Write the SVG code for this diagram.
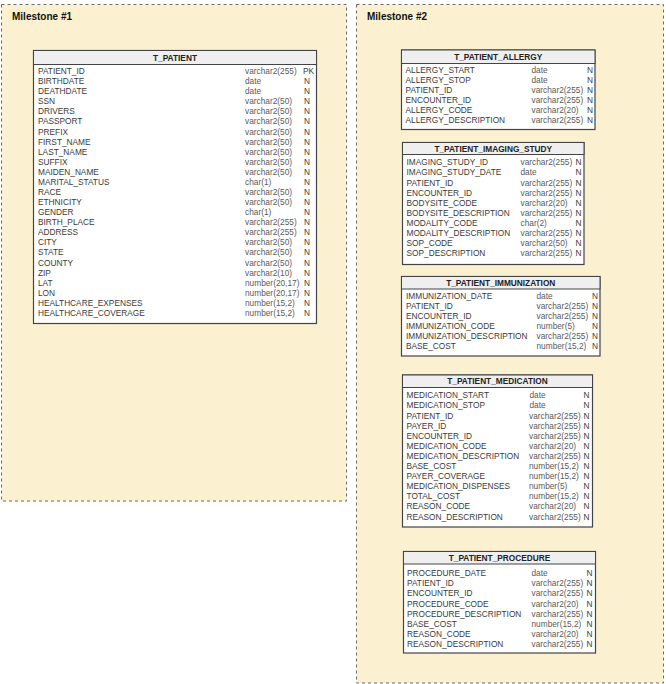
<svg xmlns="http://www.w3.org/2000/svg" width="666" height="684" viewBox="0 0 666 684">
<style>
.ms{fill:#fbf1d0;stroke:#6b6b6b;stroke-width:1;stroke-dasharray:3 3}
.mt{font-family:"Liberation Sans",Arial,sans-serif;font-size:10px;font-weight:bold;fill:#111}
.tb{fill:#fff;stroke:#444;stroke-width:1.2}
.hd{fill:#efefef;stroke:#444;stroke-width:1}
.ti{font-family:"Liberation Sans",Arial,sans-serif;font-size:8.3px;font-weight:bold;fill:#222;text-anchor:middle}
.f{font-family:"Liberation Sans",Arial,sans-serif;font-size:8.3px;fill:#3a3a3a}
.t{font-family:"Liberation Sans",Arial,sans-serif;font-size:8.3px;fill:#5a5a5a}
.n{font-family:"Liberation Sans",Arial,sans-serif;font-size:8.3px;fill:#3a3a3a;text-anchor:end}
.nl{font-family:"Liberation Sans",Arial,sans-serif;font-size:8.3px;fill:#3a3a3a}
</style>
<rect width="666" height="684" fill="#fff"/>

<g id="milestone1">
<rect class="ms" x="1.5" y="4.5" width="345" height="496.5"/>
<text class="mt" x="12" y="19.5">Milestone #1</text>
</g>
<g id="milestone2">
<rect class="ms" x="356.5" y="4.5" width="307" height="678.5"/>
<text class="mt" x="367" y="19.5">Milestone #2</text>
</g>

<g id="connectors"></g>

<g id="T_PATIENT">
<rect class="tb" x="33.5" y="50.5" width="283" height="273"/>
<rect class="hd" x="33.5" y="50.5" width="283" height="14"/>
<text class="ti" x="175" y="60.5">T_PATIENT</text>
<text class="f" x="38" y="74">PATIENT_ID</text><text class="t" x="245" y="74">varchar2(255)</text><text class="nl" x="303" y="74">PK</text>
<text class="f" x="38" y="84.1">BIRTHDATE</text><text class="t" x="245" y="84.1">date</text><text class="nl" x="304" y="84.1">N</text>
<text class="f" x="38" y="94.2">DEATHDATE</text><text class="t" x="245" y="94.2">date</text><text class="nl" x="304" y="94.2">N</text>
<text class="f" x="38" y="104.2">SSN</text><text class="t" x="245" y="104.2">varchar2(50)</text><text class="nl" x="304" y="104.2">N</text>
<text class="f" x="38" y="114.3">DRIVERS</text><text class="t" x="245" y="114.3">varchar2(50)</text><text class="nl" x="304" y="114.3">N</text>
<text class="f" x="38" y="124.4">PASSPORT</text><text class="t" x="245" y="124.4">varchar2(50)</text><text class="nl" x="304" y="124.4">N</text>
<text class="f" x="38" y="134.5">PREFIX</text><text class="t" x="245" y="134.5">varchar2(50)</text><text class="nl" x="304" y="134.5">N</text>
<text class="f" x="38" y="144.6">FIRST_NAME</text><text class="t" x="245" y="144.6">varchar2(50)</text><text class="nl" x="304" y="144.6">N</text>
<text class="f" x="38" y="154.6">LAST_NAME</text><text class="t" x="245" y="154.6">varchar2(50)</text><text class="nl" x="304" y="154.6">N</text>
<text class="f" x="38" y="164.7">SUFFIX</text><text class="t" x="245" y="164.7">varchar2(50)</text><text class="nl" x="304" y="164.7">N</text>
<text class="f" x="38" y="174.8">MAIDEN_NAME</text><text class="t" x="245" y="174.8">varchar2(50)</text><text class="nl" x="304" y="174.8">N</text>
<text class="f" x="38" y="184.9">MARITAL_STATUS</text><text class="t" x="245" y="184.9">char(1)</text><text class="nl" x="304" y="184.9">N</text>
<text class="f" x="38" y="195">RACE</text><text class="t" x="245" y="195">varchar2(50)</text><text class="nl" x="304" y="195">N</text>
<text class="f" x="38" y="205">ETHNICITY</text><text class="t" x="245" y="205">varchar2(50)</text><text class="nl" x="304" y="205">N</text>
<text class="f" x="38" y="215.1">GENDER</text><text class="t" x="245" y="215.1">char(1)</text><text class="nl" x="304" y="215.1">N</text>
<text class="f" x="38" y="225.2">BIRTH_PLACE</text><text class="t" x="245" y="225.2">varchar2(255)</text><text class="nl" x="304" y="225.2">N</text>
<text class="f" x="38" y="235.3">ADDRESS</text><text class="t" x="245" y="235.3">varchar2(255)</text><text class="nl" x="304" y="235.3">N</text>
<text class="f" x="38" y="245.4">CITY</text><text class="t" x="245" y="245.4">varchar2(50)</text><text class="nl" x="304" y="245.4">N</text>
<text class="f" x="38" y="255.4">STATE</text><text class="t" x="245" y="255.4">varchar2(50)</text><text class="nl" x="304" y="255.4">N</text>
<text class="f" x="38" y="265.5">COUNTY</text><text class="t" x="245" y="265.5">varchar2(50)</text><text class="nl" x="304" y="265.5">N</text>
<text class="f" x="38" y="275.6">ZIP</text><text class="t" x="245" y="275.6">varchar2(10)</text><text class="nl" x="304" y="275.6">N</text>
<text class="f" x="38" y="285.7">LAT</text><text class="t" x="245" y="285.7">number(20,17)</text><text class="nl" x="304" y="285.7">N</text>
<text class="f" x="38" y="295.8">LON</text><text class="t" x="245" y="295.8">number(20,17)</text><text class="nl" x="304" y="295.8">N</text>
<text class="f" x="38" y="305.8">HEALTHCARE_EXPENSES</text><text class="t" x="245" y="305.8">number(15,2)</text><text class="nl" x="304" y="305.8">N</text>
<text class="f" x="38" y="315.9">HEALTHCARE_COVERAGE</text><text class="t" x="245" y="315.9">number(15,2)</text><text class="nl" x="304" y="315.9">N</text>
</g>

<g id="T_PATIENT_ALLERGY">
<rect class="tb" x="401.5" y="50" width="193.5" height="79.5"/>
<rect class="hd" x="401.5" y="50" width="193.5" height="13.5"/>
<text class="ti" x="498.25" y="59.8">T_PATIENT_ALLERGY</text>
<text class="f" x="405.5" y="73.4">ALLERGY_START</text><text class="t" x="531.5" y="73.4">date</text><text class="n" x="593" y="73.4">N</text>
<text class="f" x="405.5" y="83.3">ALLERGY_STOP</text><text class="t" x="531.5" y="83.3">date</text><text class="n" x="593" y="83.3">N</text>
<text class="f" x="405.5" y="93.2">PATIENT_ID</text><text class="t" x="531.5" y="93.2">varchar2(255)</text><text class="n" x="593" y="93.2">N</text>
<text class="f" x="405.5" y="103.1">ENCOUNTER_ID</text><text class="t" x="531.5" y="103.1">varchar2(255)</text><text class="n" x="593" y="103.1">N</text>
<text class="f" x="405.5" y="113">ALLERGY_CODE</text><text class="t" x="531.5" y="113">varchar2(20)</text><text class="n" x="593" y="113">N</text>
<text class="f" x="405.5" y="122.9">ALLERGY_DESCRIPTION</text><text class="t" x="531.5" y="122.9">varchar2(255)</text><text class="n" x="593" y="122.9">N</text>
</g>

<g id="T_PATIENT_IMAGING_STUDY">
<rect class="tb" x="402.5" y="142.5" width="181.5" height="122"/>
<rect class="hd" x="402.5" y="142.5" width="181.5" height="12"/>
<text class="ti" x="493.25" y="151.5">T_PATIENT_IMAGING_STUDY</text>
<text class="f" x="406.5" y="165.3">IMAGING_STUDY_ID</text><text class="t" x="520.5" y="165.3">varchar2(255)</text><text class="n" x="581.5" y="165.3">N</text>
<text class="f" x="406.5" y="175.4">IMAGING_STUDY_DATE</text><text class="t" x="520.5" y="175.4">date</text><text class="n" x="581.5" y="175.4">N</text>
<text class="f" x="406.5" y="185.5">PATIENT_ID</text><text class="t" x="520.5" y="185.5">varchar2(255)</text><text class="n" x="581.5" y="185.5">N</text>
<text class="f" x="406.5" y="195.6">ENCOUNTER_ID</text><text class="t" x="520.5" y="195.6">varchar2(255)</text><text class="n" x="581.5" y="195.6">N</text>
<text class="f" x="406.5" y="205.7">BODYSITE_CODE</text><text class="t" x="520.5" y="205.7">varchar2(20)</text><text class="n" x="581.5" y="205.7">N</text>
<text class="f" x="406.5" y="215.8">BODYSITE_DESCRIPTION</text><text class="t" x="520.5" y="215.8">varchar2(255)</text><text class="n" x="581.5" y="215.8">N</text>
<text class="f" x="406.5" y="225.9">MODALITY_CODE</text><text class="t" x="520.5" y="225.9">char(2)</text><text class="n" x="581.5" y="225.9">N</text>
<text class="f" x="406.5" y="236">MODALITY_DESCRIPTION</text><text class="t" x="520.5" y="236">varchar2(255)</text><text class="n" x="581.5" y="236">N</text>
<text class="f" x="406.5" y="246.1">SOP_CODE</text><text class="t" x="520.5" y="246.1">varchar2(50)</text><text class="n" x="581.5" y="246.1">N</text>
<text class="f" x="406.5" y="256.2">SOP_DESCRIPTION</text><text class="t" x="520.5" y="256.2">varchar2(255)</text><text class="n" x="581.5" y="256.2">N</text>
</g>

<g id="T_PATIENT_IMMUNIZATION">
<rect class="tb" x="401.5" y="276.5" width="198.5" height="79.5"/>
<rect class="hd" x="401.5" y="276.5" width="198.5" height="12.5"/>
<text class="ti" x="500.75" y="285.8">T_PATIENT_IMMUNIZATION</text>
<text class="f" x="406" y="299">IMMUNIZATION_DATE</text><text class="t" x="536.5" y="299">date</text><text class="n" x="598" y="299">N</text>
<text class="f" x="406" y="308.9">PATIENT_ID</text><text class="t" x="536.5" y="308.9">varchar2(255)</text><text class="n" x="598" y="308.9">N</text>
<text class="f" x="406" y="318.8">ENCOUNTER_ID</text><text class="t" x="536.5" y="318.8">varchar2(255)</text><text class="n" x="598" y="318.8">N</text>
<text class="f" x="406" y="328.7">IMMUNIZATION_CODE</text><text class="t" x="536.5" y="328.7">number(5)</text><text class="n" x="598" y="328.7">N</text>
<text class="f" x="406" y="338.6">IMMUNIZATION_DESCRIPTION</text><text class="t" x="536.5" y="338.6">varchar2(255)</text><text class="n" x="598" y="338.6">N</text>
<text class="f" x="406" y="348.5">BASE_COST</text><text class="t" x="536.5" y="348.5">number(15,2)</text><text class="n" x="598" y="348.5">N</text>
</g>

<g id="T_PATIENT_MEDICATION">
<rect class="tb" x="402.5" y="375" width="190" height="152"/>
<rect class="hd" x="402.5" y="375" width="190" height="12.5"/>
<text class="ti" x="497.5" y="384.3">T_PATIENT_MEDICATION</text>
<text class="f" x="406.5" y="398.3">MEDICATION_START</text><text class="t" x="529.5" y="398.3">date</text><text class="n" x="589.5" y="398.3">N</text>
<text class="f" x="406.5" y="408.4">MEDICATION_STOP</text><text class="t" x="529.5" y="408.4">date</text><text class="n" x="589.5" y="408.4">N</text>
<text class="f" x="406.5" y="418.5">PATIENT_ID</text><text class="t" x="529" y="418.5">varchar2(255)</text><text class="n" x="589.5" y="418.5">N</text>
<text class="f" x="406.5" y="428.6">PAYER_ID</text><text class="t" x="529" y="428.6">varchar2(255)</text><text class="n" x="589.5" y="428.6">N</text>
<text class="f" x="406.5" y="438.7">ENCOUNTER_ID</text><text class="t" x="529" y="438.7">varchar2(255)</text><text class="n" x="589.5" y="438.7">N</text>
<text class="f" x="406.5" y="448.8">MEDICATION_CODE</text><text class="t" x="529" y="448.8">varchar2(20)</text><text class="n" x="589.5" y="448.8">N</text>
<text class="f" x="406.5" y="458.9">MEDICATION_DESCRIPTION</text><text class="t" x="529" y="458.9">varchar2(255)</text><text class="n" x="589.5" y="458.9">N</text>
<text class="f" x="406.5" y="469">BASE_COST</text><text class="t" x="529" y="469">number(15,2)</text><text class="n" x="589.5" y="469">N</text>
<text class="f" x="406.5" y="479.1">PAYER_COVERAGE</text><text class="t" x="529" y="479.1">number(15,2)</text><text class="n" x="589.5" y="479.1">N</text>
<text class="f" x="406.5" y="489.2">MEDICATION_DISPENSES</text><text class="t" x="529" y="489.2">number(5)</text><text class="n" x="589.5" y="489.2">N</text>
<text class="f" x="406.5" y="499.3">TOTAL_COST</text><text class="t" x="529" y="499.3">number(15,2)</text><text class="n" x="589.5" y="499.3">N</text>
<text class="f" x="406.5" y="509.4">REASON_CODE</text><text class="t" x="529" y="509.4">varchar2(20)</text><text class="n" x="589.5" y="509.4">N</text>
<text class="f" x="406.5" y="519.5">REASON_DESCRIPTION</text><text class="t" x="529" y="519.5">varchar2(255)</text><text class="n" x="589.5" y="519.5">N</text>
</g>

<g id="T_PATIENT_PROCEDURE">
<rect class="tb" x="403.5" y="551.5" width="192" height="101.5"/>
<rect class="hd" x="403.5" y="551.5" width="192" height="12.5"/>
<text class="ti" x="499.5" y="560.8">T_PATIENT_PROCEDURE</text>
<text class="f" x="407" y="576.3">PROCEDURE_DATE</text><text class="t" x="531.5" y="576.3">date</text><text class="n" x="592.5" y="576.3">N</text>
<text class="f" x="407" y="586.4">PATIENT_ID</text><text class="t" x="531.5" y="586.4">varchar2(255)</text><text class="n" x="592.5" y="586.4">N</text>
<text class="f" x="407" y="596.4">ENCOUNTER_ID</text><text class="t" x="531.5" y="596.4">varchar2(255)</text><text class="n" x="592.5" y="596.4">N</text>
<text class="f" x="407" y="606.5">PROCEDURE_CODE</text><text class="t" x="531.5" y="606.5">varchar2(20)</text><text class="n" x="592.5" y="606.5">N</text>
<text class="f" x="407" y="616.5">PROCEDURE_DESCRIPTION</text><text class="t" x="531.5" y="616.5">varchar2(255)</text><text class="n" x="592.5" y="616.5">N</text>
<text class="f" x="407" y="626.6">BASE_COST</text><text class="t" x="531.5" y="626.6">number(15,2)</text><text class="n" x="592.5" y="626.6">N</text>
<text class="f" x="407" y="636.7">REASON_CODE</text><text class="t" x="531.5" y="636.7">varchar2(20)</text><text class="n" x="592.5" y="636.7">N</text>
<text class="f" x="407" y="646.7">REASON_DESCRIPTION</text><text class="t" x="531.5" y="646.7">varchar2(255)</text><text class="n" x="592.5" y="646.7">N</text>
</g>
</svg>
